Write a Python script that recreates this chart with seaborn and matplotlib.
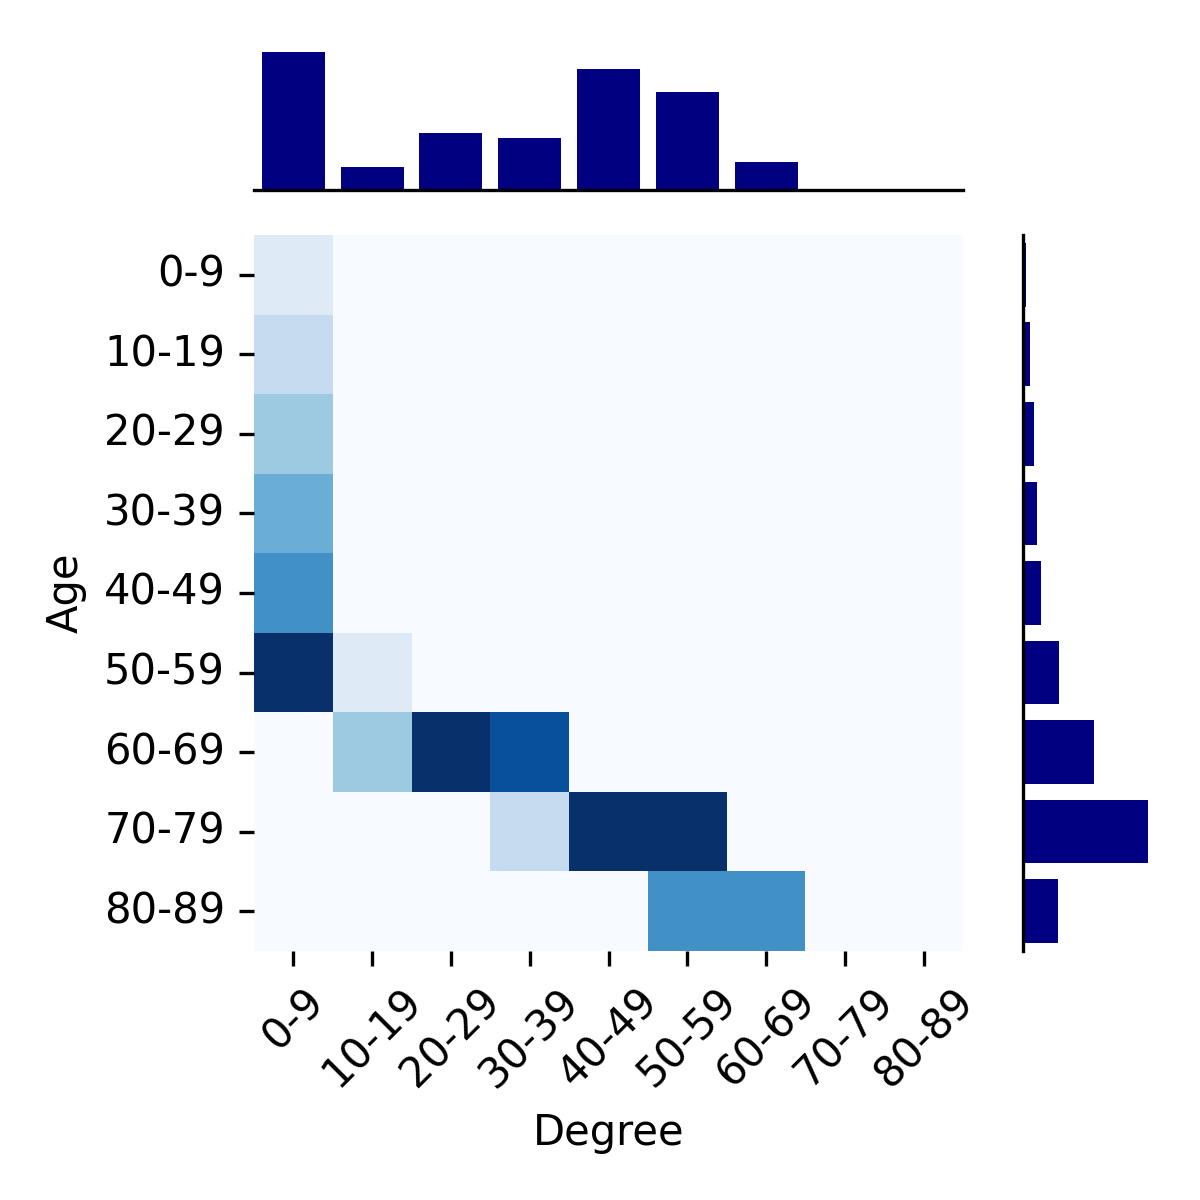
import numpy as np
import pandas as pd
import matplotlib
matplotlib.use("Agg")
import matplotlib.pyplot as plt
import seaborn as sns

# age / degree bins
bins = ["0-9", "10-19", "20-29", "30-39", "40-49", "50-59", "60-69", "70-79", "80-89"]

# heatmap cell values (rows = Age, cols = Degree)
heat = np.array([
    [1, 0, 0, 0, 0, 0, 0, 0, 0],
    [2, 0, 0, 0, 0, 0, 0, 0, 0],
    [3, 0, 0, 0, 0, 0, 0, 0, 0],
    [4, 0, 0, 0, 0, 0, 0, 0, 0],
    [5, 0, 0, 0, 0, 0, 0, 0, 0],
    [8, 1, 0, 0, 0, 0, 0, 0, 0],
    [0, 3, 8, 7, 0, 0, 0, 0, 0],
    [0, 0, 0, 2, 8, 8, 0, 0, 0],
    [0, 0, 0, 0, 0, 5, 5, 0, 0],
])

# marginal totals
degree_counts = [138, 23, 57, 52, 121, 98, 28, 0, 0]
age_counts = [3, 7, 11, 14, 18, 36, 71, 125, 35]

heat_df = pd.DataFrame(heat, index=bins, columns=bins)

fig = plt.figure(figsize=(4, 4), dpi=300)
ax_heat = fig.add_axes([0.2117, 0.2075, 0.5908, 0.5967])
ax_top = fig.add_axes([0.2117, 0.8417, 0.5908, 0.1208])
ax_right = fig.add_axes([0.8525, 0.2075, 0.1092, 0.5967])

# main heatmap
sns.heatmap(heat_df, cmap="Blues", vmin=0, vmax=8, cbar=False, ax=ax_heat)
ax_heat.set_xlabel("Degree")
ax_heat.set_ylabel("Age")
ax_heat.tick_params(axis="y", rotation=0)
ax_heat.tick_params(axis="x", rotation=45)

# top marginal
sns.barplot(x=bins, y=degree_counts, color="navy", saturation=1, width=0.8, ax=ax_top)
ax_top.set_xlim(-0.5, len(bins) - 0.5)
ax_top.set_xticks([])
ax_top.set_yticks([])
ax_top.set_xlabel("")
ax_top.set_ylabel("")
for s in ["top", "right", "left"]:
    ax_top.spines[s].set_visible(False)

# right marginal
sns.barplot(y=bins, x=age_counts, color="navy", saturation=1, width=0.8,
            orient="h", ax=ax_right)
ax_right.set_ylim(len(bins) - 0.5, -0.5)
ax_right.set_xticks([])
ax_right.set_yticks([])
ax_right.set_xlabel("")
ax_right.set_ylabel("")
for s in ["top", "right", "bottom"]:
    ax_right.spines[s].set_visible(False)

plt.savefig("out.png", dpi=300)
plt.close()
